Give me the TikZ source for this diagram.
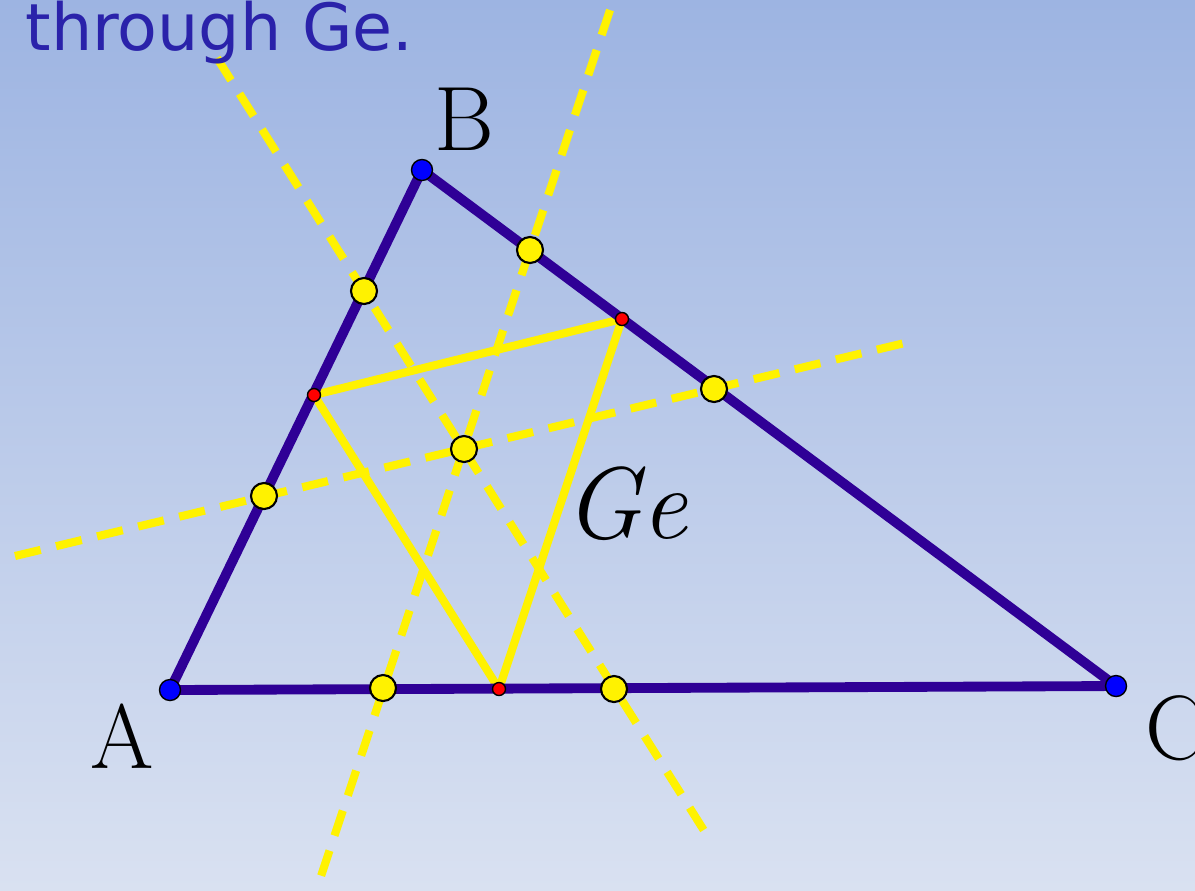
\documentclass[tikz,border=0pt]{standalone}
\usepackage{fontspec}
\newfontfamily\handfont{DejaVu Sans}
\usetikzlibrary{calc}
\definecolor{Sky}{HTML}{9DB4E2}
\definecolor{Mist}{HTML}{D9E1F1}
\definecolor{Side}{HTML}{2F0096}
\definecolor{Hand}{HTML}{2A22AA}
\definecolor{Vertex}{HTML}{0000FF}

\begin{document}
\begin{tikzpicture}[x=0.01cm, y=-0.01cm,
    side/.style={line width=2.8pt, color=Side, line cap=round, line join=round},
    pedal/.style={line width=2.3pt, color=yellow, line join=round},
    bisector/.style={line width=2.3pt, color=yellow, dash pattern=on 7.5pt off 4.5pt},
    vertexdot/.style={circle, draw=black, thin, fill=Vertex, inner sep=0pt, minimum size=0.21cm},
    middot/.style={circle, draw=black, semithick, fill=yellow, inner sep=0pt, minimum size=0.26cm},
    footdot/.style={circle, draw=black, thin, fill=red, inner sep=0pt, minimum size=0.13cm},
    vlbl/.style={font=\fontsize{26}{30}\selectfont, text=black, inner sep=0pt}
]
    % Backdrop
    \shade[top color=Sky, bottom color=Mist] (0,0) rectangle (1195,890);
    \useasboundingbox (0,0) rectangle (1195,890);

    % Vertices, feet and midpoints
    \coordinate (A) at (170,690);
    \coordinate (B) at (422,170);
    \coordinate (C) at (1116,686);
    \coordinate (P) at (314,395);
    \coordinate (Q) at (622,319);
    \coordinate (R) at (499,689);
    \coordinate (mAB1) at (364,291);
    \coordinate (mAB2) at (264,496);
    \coordinate (mBC1) at (530,250);
    \coordinate (mBC2) at (714,389);
    \coordinate (mAC1) at (383,688);
    \coordinate (mAC2) at (614,689);
    \coordinate (Ge) at (464,449);

    % Ends of the dashed lines
    \coordinate (d1a) at (217,58);
    \coordinate (d1b) at (710,840);
    \coordinate (d2a) at (610,10);
    \coordinate (d2b) at (317,888);
    \coordinate (d3a) at (15,556);
    \coordinate (d3b) at (913,341);

    % Dashed lines through Ge
    \draw[bisector] (d1a) -- (d1b);
    \draw[bisector] (d2a) -- (d2b);
    \draw[bisector] (d3a) -- (d3b);

    % Inner triangle and outer triangle
    \draw[pedal] (P) -- (Q) -- (R) -- cycle;
    \draw[side] (A) -- (B) -- (C) -- cycle;

    % Dots
    \node[middot] (dotAB1) at (mAB1) {};
    \node[middot] (dotAB2) at (mAB2) {};
    \node[middot] (dotBC1) at (mBC1) {};
    \node[middot] (dotBC2) at (mBC2) {};
    \node[middot] (dotAC1) at (mAC1) {};
    \node[middot] (dotAC2) at (mAC2) {};
    \node[middot] (dotGe) at (Ge) {};
    \node[footdot] (dotP) at (P) {};
    \node[footdot] (dotQ) at (Q) {};
    \node[footdot] (dotR) at (R) {};
    \node[vertexdot] (dotA) at (A) {};
    \node[vertexdot] (dotB) at (B) {};
    \node[vertexdot] (dotC) at (C) {};

    % Labels
    \node[vlbl] (labA) at (122,736) {A};
    \node[vlbl] (labB) at (464,119) {B};
    \node[vlbl] (labC) at (1176,728) {C};
    \node[font=\fontsize{29}{34}\selectfont, anchor=base west, inner sep=0pt] (labGe) at (564,538) {\textit{Ge}};
    \node[font=\handfont\fontsize{18.5}{22}\selectfont, text=Hand, anchor=base west, inner sep=0pt] (caption) at (25,50) {through Ge.};
\end{tikzpicture}
\end{document}
